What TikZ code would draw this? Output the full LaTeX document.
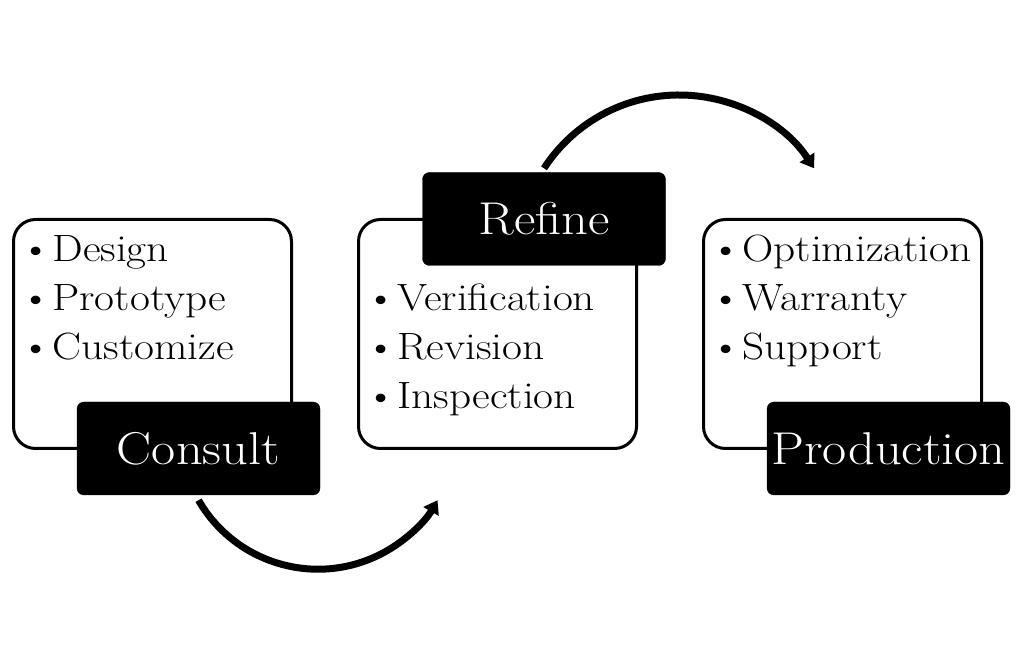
\documentclass[tikz,border=0pt]{standalone}
\usepackage{fontspec}
\setmainfont{Latin Modern Roman}[FakeStretch=1.14]
\usetikzlibrary{arrows.meta}

\tikzset{
  panel/.style={draw, line width=3pt, rounded corners=22pt, fill=white,
    minimum width=278pt, minimum height=229pt, inner sep=0pt},
  stage/.style={draw, fill=black, text=white, rounded corners=7pt,
    minimum width=243pt, minimum height=93pt, inner sep=0pt,
    font=\fontsize{46}{52}\selectfont},
  entry/.style={anchor=base west, inner sep=0pt, font=\fontsize{38}{46}\selectfont},
  flow/.style={line width=7pt, -{Triangle[length=13pt, width=17pt]}}
}
\newcommand{\bul}[1]{\textbullet\hspace{1pt}#1}

\begin{document}
\begin{tikzpicture}[x=1pt, y=1pt]
  \useasboundingbox (0,0) rectangle (1032,669);

  % Panels
  \node[panel] (p1) at (152.5,335) {};
  \node[panel] (p2) at (497.5,335) {};
  \node[panel] (p3) at (842.5,335) {};

  % Bullet lists
  \foreach \lbl [count=\i] in {Design, Prototype, Customize}
    \node[entry] (c\i) at (20,{407-(\i-1)*49}) {\bul{\lbl}};
  \foreach \lbl [count=\i] in {Verification, Revision, Inspection}
    \node[entry] (r\i) at (365,{358-(\i-1)*49}) {\bul{\lbl}};
  \foreach \lbl [count=\i] in {Optimization, Warranty, Support}
    \node[entry] (o\i) at (710,{407-(\i-1)*49}) {\bul{\lbl}};

  % Stage labels
  \node[stage] (consult) at (198.5,220.5) {Consult};
  \node[stage] (refine) at (544,450) {Refine};
  \node[stage] (production) at (888.5,220.5) {Production};

  % Arrows
  \draw[flow] ([yshift=-5pt]consult.south) arc[start angle=210, end angle=330, radius=138];
  \draw[flow] ([yshift=4pt]refine.north) arc[start angle=147, end angle=33, radius=161];
\end{tikzpicture}
\end{document}
